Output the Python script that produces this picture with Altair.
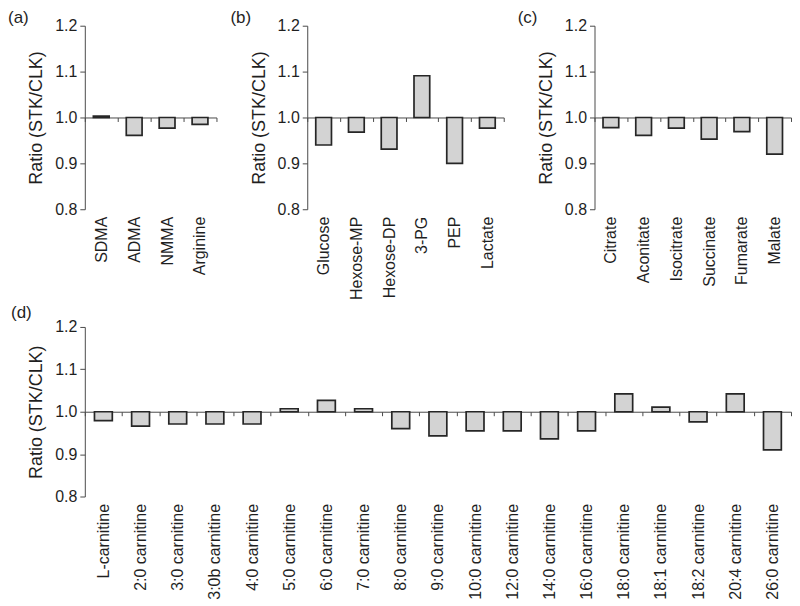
import altair as alt
import pandas as pd

# ---- data ----
a_cats = ["SDMA", "ADMA", "NMMA", "Arginine"]
a_vals = [1.003, 0.961, 0.977, 0.985]

b_cats = ["Glucose", "Hexose-MP", "Hexose-DP", "3-PG", "PEP", "Lactate"]
b_vals = [0.940, 0.968, 0.931, 1.091, 0.900, 0.977]

c_cats = ["Citrate", "Aconitate", "Isocitrate", "Succinate", "Fumarate", "Malate"]
c_vals = [0.978, 0.961, 0.977, 0.953, 0.969, 0.920]

d_cats = ["L-carnitine", "2:0 carnitine", "3:0 carnitine", "3:0b carnitine",
          "4:0 carnitine", "5:0 carnitine", "6:0 carnitine", "7:0 carnitine",
          "8:0 carnitine", "9:0 carnitine", "10:0 carnitine", "12:0 carnitine",
          "14:0 carnitine", "16:0 carnitine", "18:0 carnitine", "18:1 carnitine",
          "18:2 carnitine", "20:4 carnitine", "26:0 carnitine"]
d_vals = [0.979, 0.966, 0.971, 0.971, 0.971, 1.007, 1.027, 1.007, 0.960, 0.943,
          0.955, 0.955, 0.936, 0.955, 1.042, 1.011, 0.976, 1.042, 0.910]

y_ticks = [0.8, 0.9, 1.0, 1.1, 1.2]
y_title = "Ratio (STK/CLK)"

FONT = "Liberation Sans"
TXT = "#1f1f1f"
AX = "#4a4a4a"


def panel(cats, vals, letter, W, H, ldx, ldy):
    df = pd.DataFrame({"name": cats, "value": vals})
    tick = 4
    bars = alt.Chart(df).mark_bar(
        width=alt.RelativeBandSize(0.48),
        fill="#d3d3d3", stroke="#262626", strokeWidth=1.7
    ).encode(
        x=alt.X("name:N", sort=None, title=None,
                scale=alt.Scale(paddingInner=0, paddingOuter=0),
                axis=alt.Axis(offset=-H / 2, tickBand="extent", tickSize=tick,
                              labelPadding=H / 2 + 7 - tick, labelAngle=-90,
                              labelFontSize=16, labelFont=FONT, labelColor=TXT,
                              domainColor=AX, tickColor=AX, grid=False)),
        y=alt.Y("value:Q", title=y_title,
                scale=alt.Scale(domain=[0.8, 1.2], zero=False, nice=False),
                axis=alt.Axis(values=y_ticks, format=".1f", tickSize=5,
                              labelPadding=3, labelFontSize=16, labelFont=FONT,
                              labelColor=TXT, titleFont=FONT, titleFontSize=18,
                              titleFontWeight="normal", titleColor=TXT,
                              titlePadding=9, domainColor=AX, tickColor=AX,
                              grid=False)),
        y2=alt.datum(1.0),
    )
    lab = alt.Chart(pd.DataFrame({"t": [letter]})).mark_text(
        align="left", baseline="middle", font=FONT, fontSize=17, color=TXT
    ).encode(x=alt.value(ldx), y=alt.value(ldy), text="t:N")
    return alt.layer(bars, lab).properties(width=W, height=H)


H1 = 184
H2 = 170
pa = panel(a_cats, a_vals, "(a)", 132, H1, -77, -8)
pb = panel(b_cats, b_vals, "(b)", 197, H1, -77, -8)
pc = panel(c_cats, c_vals, "(c)", 197, H1, -77, -8)
pd_ = panel(d_cats, d_vals, "(d)", 708, H2, -74, -14)

row1 = alt.hconcat(pa, pb, pc, spacing=13)
chart = alt.vconcat(row1, pd_, spacing=4).properties(padding=0).configure_view(
    stroke=None
)

chart.save("out.html", embed_options={"renderer": "svg", "actions": False})
